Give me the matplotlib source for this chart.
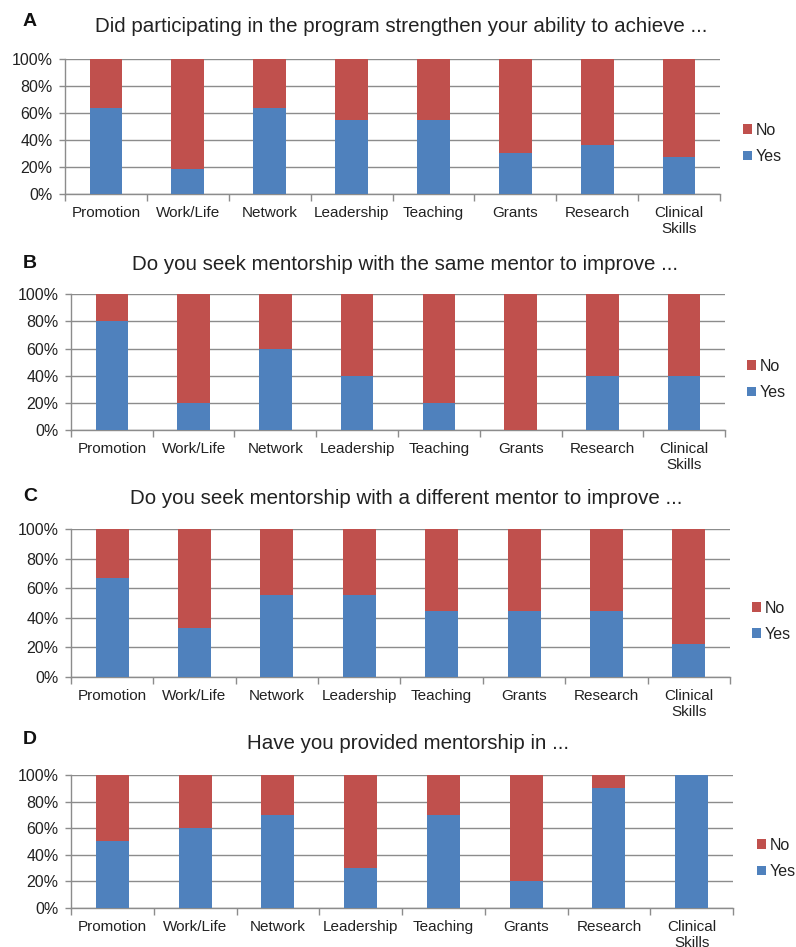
import matplotlib
matplotlib.use("Agg")
import matplotlib.pyplot as plt
from matplotlib.patches import Patch
import numpy as np

categories = ["Promotion", "Work/Life", "Network", "Leadership", "Teaching",
              "Grants", "Research", "Clinical\nSkills"]

yes_a = [63.6, 18.2, 63.6, 54.5, 54.5, 30.0, 36.4, 27.3]
yes_b = [80, 20, 60, 40, 20, 0, 40, 40]
yes_c = [66.7, 33.3, 55.6, 55.6, 44.4, 44.4, 44.4, 22.2]
yes_d = [50, 60, 70, 30, 70, 20, 90, 100]

titles = ["Did participating in the program strengthen your ability to achieve ...",
          "Do you seek mentorship with the same mentor to improve ...",
          "Do you seek mentorship with a different mentor to improve ...",
          "Have you provided mentorship in ..."]
panel_labels = ["A", "B", "C", "D"]
yticks = [0, 20, 40, 60, 80, 100]
ytick_labels = ["0%", "20%", "40%", "60%", "80%", "100%"]

BLUE = "#4F81BD"
RED = "#C0504D"
GRID = "#8c8c8c"

W, H = 796, 947
plt.rcParams['font.family'] = ['Liberation Sans', 'DejaVu Sans']
fig = plt.figure(figsize=(W / 100, H / 100), dpi=100)

# pixel layout: (x0, x1, ytop, ybottom)
rects = [(65, 720, 58.7, 194), (71, 725, 294.3, 430),
         (71, 730, 529.3, 677), (71, 733, 775, 907.7)]
title_pos = [(401, 26), (405, 265), (406, 498), (408, 743)]
label_pos = [(30, 21), (30, 263), (30, 496), (30, 739)]
legend_pos = [(743, 143.5), (747, 379.5), (752, 621.3), (757, 858.5)]

series = [yes_a, yes_b, yes_c, yes_d]
x = np.arange(len(categories))

for i, yes in enumerate(series):
    x0, x1, yt, yb = rects[i]
    ax = fig.add_axes([x0 / W, 1 - yb / H, (x1 - x0) / W, (yb - yt) / H])
    yes = np.array(yes, dtype=float)
    no = 100 - yes
    ax.bar(x, yes, width=0.4, color=BLUE, zorder=3, linewidth=0)
    ax.bar(x, no, width=0.4, bottom=yes, color=RED, zorder=3, linewidth=0)
    ax.set_xlim(-0.5, len(categories) - 0.5)
    ax.set_ylim(0, 100)
    ax.set_yticks(yticks)
    ax.set_yticklabels(ytick_labels)
    ax.set_xticks(x)
    ax.set_xticklabels(categories, linespacing=1.2)
    ax.set_xticks(np.arange(-0.5, len(categories), 1.0), minor=True)
    ax.tick_params(axis='x', which='major', length=0, pad=8.5, labelsize=11, colors='#222222')
    ax.tick_params(axis='x', which='minor', length=5, width=1, color=GRID, direction='out')
    ax.tick_params(axis='y', length=4, width=1, color=GRID, pad=5, labelsize=11.5, labelcolor='#222222')
    ax.grid(axis='y', color=GRID, linewidth=1, zorder=0)
    for s in ['top', 'right']:
        ax.spines[s].set_visible(False)
    for s in ['left', 'bottom']:
        ax.spines[s].set_color(GRID)
        ax.spines[s].set_linewidth(1)

    handles = [Patch(facecolor=RED, edgecolor='none'), Patch(facecolor=BLUE, edgecolor='none')]
    lx, ly = legend_pos[i]
    fig.legend(handles, ["No", "Yes"], loc='center left',
               bbox_to_anchor=(lx / W, 1 - ly / H), bbox_transform=fig.transFigure,
               frameon=False, handlelength=0.55, handleheight=0.55, handletextpad=0.25,
               labelspacing=0.7, fontsize=11.5, borderpad=0, borderaxespad=0,
               labelcolor='#222222')

    tx, ty = title_pos[i]
    fig.text(tx / W, 1 - ty / H, titles[i], ha='center', va='center', fontsize=14.8,
             color='#222222')
    px, py = label_pos[i]
    fig.text(px / W, 1 - py / H, panel_labels[i], ha='center', va='center',
             fontsize=14, fontweight='bold', color='#111111')

fig.savefig("out.png", dpi=100)
